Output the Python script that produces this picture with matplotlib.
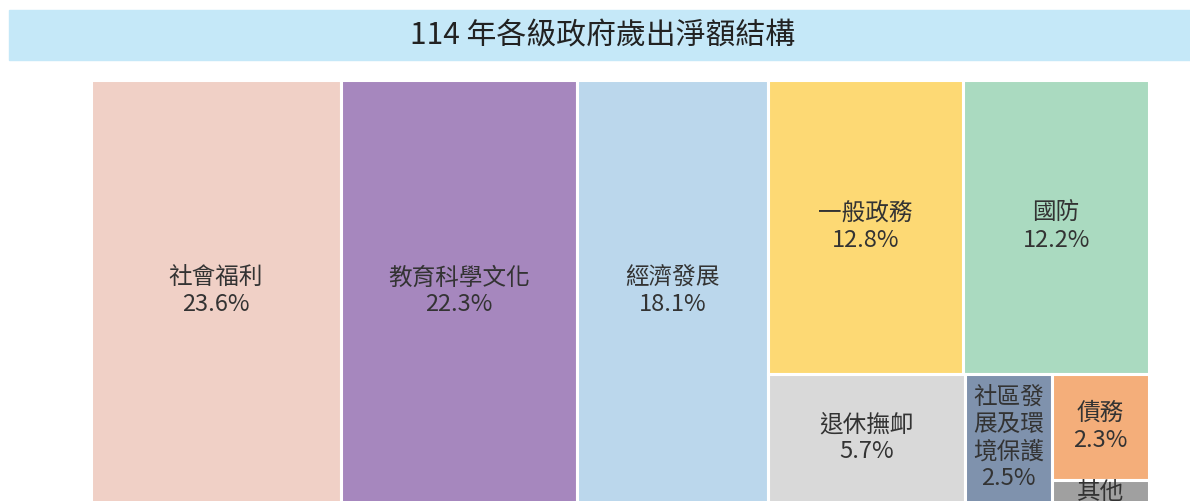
import matplotlib
matplotlib.use('Agg')
import matplotlib.pyplot as plt
from matplotlib.patches import Rectangle

plt.rcParams['font.family'] = ['Noto Sans CJK TC', 'DejaVu Sans']

# data: share of net expenditure by function (%)
names = ['社會福利', '教育科學文化', '經濟發展', '一般政務', '國防',
         '退休撫卹', '社區發展及環境保護', '債務', '其他']
labels = ['社會福利', '教育科學文化', '經濟發展', '一般政務', '國防',
          '退休撫卹', '社區發\n展及環\n境保護', '債務', '其他']
shares = [23.6, 22.3, 18.1, 12.8, 12.2, 5.7, 2.5, 2.3, 0.5]
colors = ['#F0D0C6', '#A687BE', '#BBD7EC', '#FDD974', '#AADAC0',
          '#D9D9D9', '#7F92AD', '#F4AE7A', '#A0A0A0']

# nesting of the treemap (indices into the lists above)
tree = [0, 1, 2, [[3, 4], [5, 6, [7, 8]]]]

value = dict(zip(range(len(shares)), shares))


def size(node):
    if isinstance(node, list):
        return sum(size(n) for n in node)
    return value[node]


def layout(node, x, y, w, h, horiz, out):
    if not isinstance(node, list):
        out[node] = (x, y, w, h)
        return
    total = size(node)
    pos = x if horiz else y
    for child in node:
        frac = size(child) / total
        if horiz:
            layout(child, pos, y, w * frac, h, not horiz, out)
            pos += w * frac
        else:
            layout(child, x, pos, w, h * frac, not horiz, out)
            pos += h * frac


W, H = 1058, 423
rects = {}
layout(tree, 0, 0, W, H, True, rects)

fig = plt.figure(figsize=(11.9, 5.01), dpi=100)

# title band
fig.patches.append(Rectangle((9 / 1190, 1 - 60 / 501), 1 - 9 / 1190, 50 / 501,
                             transform=fig.transFigure, color='#C5E8F8', zorder=0))
fig.text(0.506, 1 - 36 / 501, '114 年各級政府歲出淨額結構', ha='center', va='center',
         fontsize=21.5, color='#222222')

ax = fig.add_axes([91 / 1190, (501 - 80 - H) / 501, W / 1190, H / 501])
ax.set_xlim(0, W)
ax.set_ylim(H, 0)
ax.axis('off')

line_px = 29
for i in range(len(shares)):
    x, y, w, h = rects[i]
    ax.add_patch(Rectangle((x, y), w, h, facecolor=colors[i], edgecolor='white',
                           linewidth=2.2))
    txt = labels[i] + '\n' + f'{shares[i]:.1f}%'
    n_lines = txt.count('\n') + 1
    if n_lines * line_px > h:
        # label does not fit: start it at the top of the cell
        ax.text(x + w / 2, y + 1, txt, ha='center', va='top', fontsize=17,
                color='#333333', linespacing=1.2, clip_on=True)
    else:
        ax.text(x + w / 2, y + h / 2, txt, ha='center', va='center', fontsize=17,
                color='#333333', linespacing=1.2, clip_on=True)

fig.savefig('out.png', dpi=100)
